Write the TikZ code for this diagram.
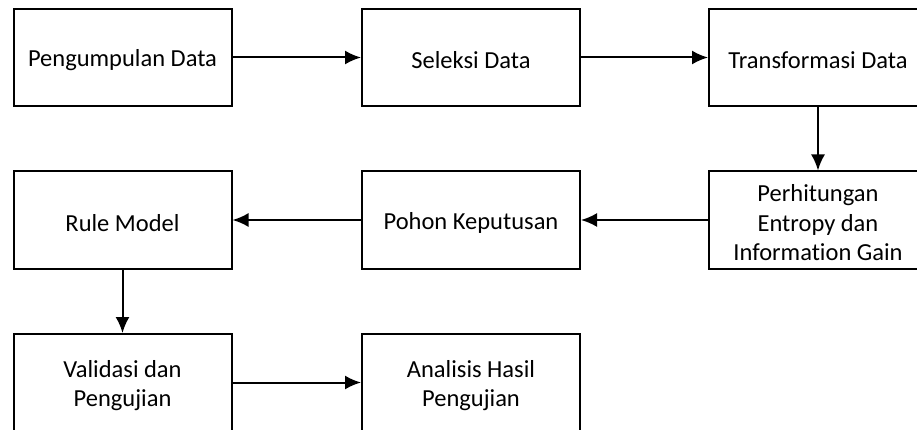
\documentclass[tikz,border=0pt]{standalone}
\usepackage{fontspec}
\setmainfont{Carlito}[Ligatures=CommonOff]
\usetikzlibrary{arrows.meta}
\begin{document}
\begin{tikzpicture}[x=1pt,y=1pt,
  box/.style={draw=black, line width=2pt, minimum width=218pt, minimum height=97pt,
    inner sep=0pt, label={[txt]center:#1}},
  txt/.style={align=center, inner sep=0pt, yshift=-3pt, font=\fontsize{24.5pt}{29.5pt}\selectfont},
  conn/.style={line width=2pt, -{Latex[length=16pt,width=14pt]}}]
\useasboundingbox (0,0) rectangle (917,-430);
\node[box={Pengumpulan Data}] (a) at (122.5,-57.5) {};
\node[box={Seleksi Data}] (b) at (471,-57.5) {};
\node[box={Transformasi Data}] (c) at (818,-57.5) {};
\node[box={Perhitungan\\Entropy dan\\Information Gain}] (d) at (818,-220) {};
\node[box={Pohon Keputusan}] (e) at (471,-220) {};
\node[box={Rule Model}] (f) at (122.5,-220) {};
\node[box={Validasi dan\\Pengujian}] (g) at (122.5,-382.5) {};
\node[box={Analisis Hasil\\Pengujian}] (h) at (471,-382.5) {};
\draw[conn] (a) -- (b);
\draw[conn] (b) -- (c);
\draw[conn] (c) -- (d);
\draw[conn] (d) -- (e);
\draw[conn] (e) -- (f);
\draw[conn] (f) -- (g);
\draw[conn] (g) -- (h);
\end{tikzpicture}
\end{document}
